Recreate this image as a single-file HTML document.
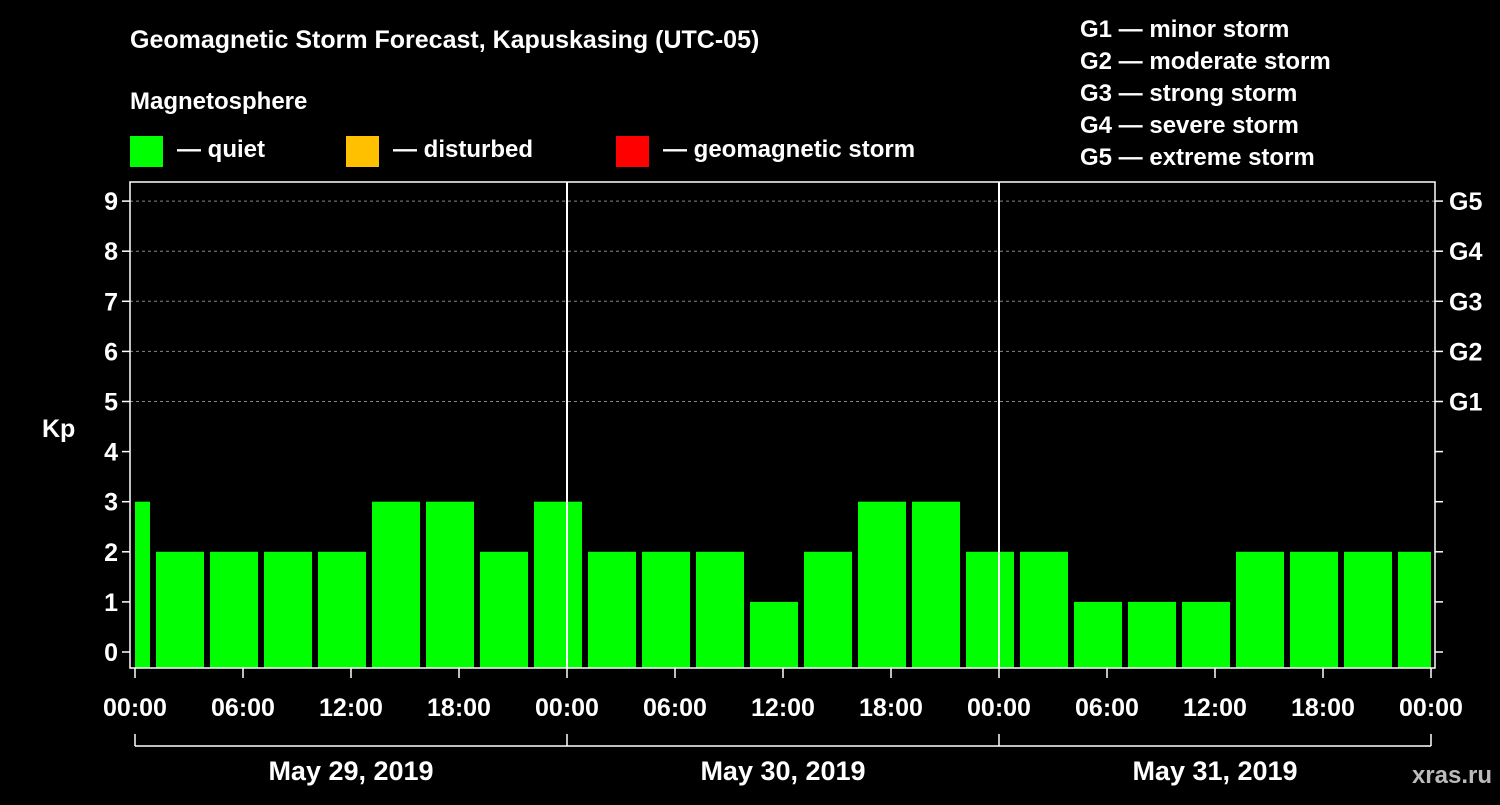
<!DOCTYPE html>
<html><head><meta charset="utf-8"><style>
body{margin:0;background:#000;}
svg text{font-family:"Liberation Sans",Arial,sans-serif;font-weight:bold;fill:#fff;}
</style></head><body>
<svg id="c" width="1500" height="800" viewBox="0 0 1500 800">
<rect width="1500" height="800" fill="#000"/>
<text x="130" y="48" font-size="25">Geomagnetic Storm Forecast, Kapuskasing (UTC-05)</text>
<text x="130" y="109" font-size="24">Magnetosphere</text>
<g><rect x="130" y="136" width="33" height="31" fill="#00ff00"/><text x="177" y="157" font-size="24">— quiet</text></g>
<g><rect x="346" y="136" width="33" height="31" fill="#ffc000"/><text x="393" y="157" font-size="24">— disturbed</text></g>
<g><rect x="616" y="136" width="33" height="31" fill="#ff0000"/><text x="663" y="157" font-size="24">— geomagnetic storm</text></g>
<g font-size="24">
<text x="1080" y="37" font-size="24">G1 — minor storm</text>
<text x="1080" y="69" font-size="24">G2 — moderate storm</text>
<text x="1080" y="101" font-size="24">G3 — strong storm</text>
<text x="1080" y="133" font-size="24">G4 — severe storm</text>
<text x="1080" y="165" font-size="24">G5 — extreme storm</text>
</g>
<text x="42" y="437" font-size="25">Kp</text>
<g id="grid"></g><g id="bars"></g><g id="axes"></g>
<text x="1492" y="783" font-size="24" text-anchor="end" fill="#fff" style="fill:#bbb">xras.ru</text>
</svg>
<script>
const kpValues=[3,2,2,2,2,3,3,2,3,2,2,2,1,2,3,3,2,2,1,1,1,2,2,2,2];
const barStartHours=[-0.5,2.5,5.5,8.5,11.5,14.5,17.5,20.5,23.5,26.5,29.5,32.5,35.5,38.5,41.5,44.5,47.5,50.5,53.5,56.5,59.5,62.5,65.5,68.5,71.5];
const yTicks=[0,1,2,3,4,5,6,7,8,9];
const gLabels=["","","","","","G1","G2","G3","G4","G5"];
const xTickLabels=["00:00","06:00","12:00","18:00","00:00","06:00","12:00","18:00","00:00","06:00","12:00","18:00","00:00"];
const dayLabels=["May 29, 2019","May 30, 2019","May 31, 2019"];
const NS="http://www.w3.org/2000/svg";
const X0=135,PX_H=18,TOTAL=72;
const x=h=>X0+h*PX_H;
const y=v=>652-v*50.1;
const PL=130,PR=1435,PT=182,PB=668;
function mk(p,t,a){const e=document.createElementNS(NS,t);for(const k in a)e.setAttribute(k,a[k]);p.appendChild(e);return e;}
const grid=document.getElementById('grid'),bars=document.getElementById('bars'),axes=document.getElementById('axes');
for(let i=5;i<=9;i++){const l=mk(grid,'line',{x1:PL,x2:PR,y1:y(yTicks[i]),y2:y(yTicks[i]),stroke:'#888','stroke-dasharray':'3,3','stroke-width':1});

}
kpValues.forEach((v,i)=>{const c=barStartHours[i];let a=Math.max(x(c-1.5),x(0)),b=Math.min(x(c+1.5),x(TOTAL));
if(a>x(0))a+=3;if(b<x(TOTAL))b-=3;
const col=v>=5?'#ff0000':(v>=4?'#ffc000':'#00ff00');
const r=mk(bars,'rect',{x:a,y:y(v),width:b-a,height:PB-y(v),fill:col});

});
mk(axes,'rect',{x:PL,y:PT,width:PR-PL,height:PB-PT,fill:'none',stroke:'#fff','stroke-width':1.5});
[24,48].forEach(h=>{const l=mk(axes,'line',{x1:x(h),x2:x(h),y1:PT,y2:PB,stroke:'#fff','stroke-width':2});

});
yTicks.forEach((v,i)=>{mk(axes,'line',{x1:PL-8,x2:PL,y1:y(v),y2:y(v),stroke:'#fff','stroke-width':1.5});
mk(axes,'line',{x1:PR,x2:PR+8,y1:y(v),y2:y(v),stroke:'#fff','stroke-width':1.5});
const t=mk(axes,'text',{x:PL-12,y:y(v)+9,'font-size':25,'text-anchor':'end'});t.textContent=v;


if(gLabels[i]){const g=mk(axes,'text',{x:1449,y:y(v)+9,'font-size':25});g.textContent=gLabels[i];

}});
xTickLabels.forEach((s,i)=>{const h=i*6;mk(axes,'line',{x1:x(h),x2:x(h),y1:PB,y2:PB+10,stroke:'#fff','stroke-width':1.5});
const t=mk(axes,'text',{x:x(h),y:716,'font-size':25,'text-anchor':'middle'});t.textContent=s;

});
mk(axes,'line',{x1:x(0),x2:x(TOTAL),y1:746,y2:746,stroke:'#fff','stroke-width':1.5});
[0,24,48,72].forEach(h=>mk(axes,'line',{x1:x(h),x2:x(h),y1:734,y2:746,stroke:'#fff','stroke-width':1.5}));
dayLabels.forEach((s,i)=>{const t=mk(axes,'text',{x:x(i*24+12),y:780,'font-size':27,'text-anchor':'middle'});t.textContent=s;

});
</script>
</body></html>
